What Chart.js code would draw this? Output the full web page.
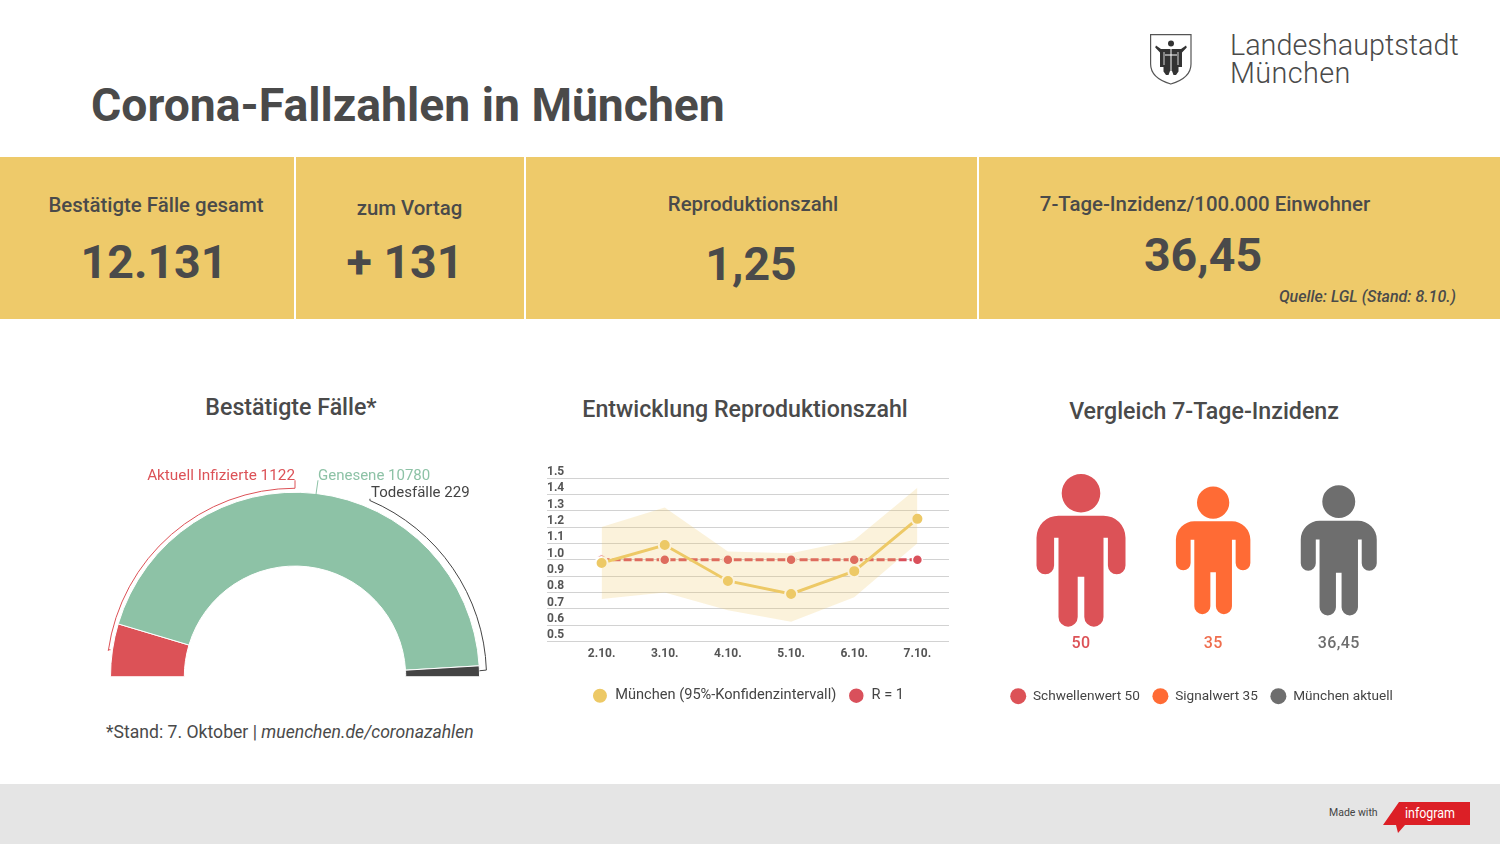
<!DOCTYPE html>
<html lang="de">
<head>
<meta charset="utf-8">
<title>Corona-Fallzahlen in München</title>
<script src="https://cdn.jsdelivr.net/npm/chart.js@4"></script>
<style>
  html, body { margin: 0; padding: 0; background: #fff; }
  body { position: relative; width: 1500px; height: 844px; overflow: hidden; font-family: Roboto, sans-serif; color: #4a4a4a; }
  .abs { position: absolute; white-space: nowrap; }
  .center { transform: translateX(-50%); text-align: center; }
  .band { position: absolute; top: 157px; height: 162px; background: #eeca6a; }
  .kpi-label { font-size: 20.4px; font-weight: 500; line-height: 26px; }
  .kpi-value { font-size: 46.5px; font-weight: 700; line-height: 56px; }
  .chart-title { font-size: 23.2px; font-weight: 500; line-height: 30px; }
  canvas { position: absolute; }
</style>
</head>
<body>
<div class="abs" style="left:91px;top:74px;font-size:46.3px;font-weight:700;line-height:62px">Corona-Fallzahlen in München</div>

<svg class="abs" style="left:1150px;top:34px" width="42" height="51" viewBox="0 0 42 51">
  <path d="M0.6 0.6H41V30C41 41 31 47 20.8 50C10.6 47 0.6 41 0.6 30Z" fill="#fff" stroke="#555" stroke-width="1.2"/>
  <circle cx="21" cy="9.5" r="3" fill="#333"/>
  <path d="M6 11.5L11 15H31L36 11.5L36.8 13.5L32 18.5V33H28.5V37.5L26 41H23.5L22 37H20L18.5 41H16L13.5 37.5V33H10V18.5L5.2 13.5Z" fill="#333"/>
  <path d="M21 15V37M15 21H27" stroke="#fff" stroke-width="1" fill="none"/>
  <path d="M14 18V31M28 18V31" stroke="#fff" stroke-width="0.8" fill="none"/>
</svg>
<div class="abs" style="left:1230px;top:31px;font-size:28.8px;font-weight:300;line-height:28px">Landeshauptstadt<br><span style="letter-spacing:.4px">München</span></div>

<div class="band" style="left:0;width:294px"></div>
<div class="band" style="left:296px;width:228px"></div>
<div class="band" style="left:526px;width:451px"></div>
<div class="band" style="left:979px;width:521px"></div>
<div id="kpis"></div>
<div class="abs" style="right:44px;top:287px;font-size:16px;font-weight:500;font-style:italic;line-height:20px">Quelle: LGL (Stand: 8.10.)</div>

<div class="abs center chart-title" style="left:291px;top:392px">Bestätigte Fälle*</div>
<div class="abs center chart-title" style="left:745px;top:394px">Entwicklung Reproduktionszahl</div>
<div class="abs center chart-title" style="left:1204px;top:396px">Vergleich 7-Tage-Inzidenz</div>

<canvas id="gaugeChart" style="left:90px;top:450px;width:410px;height:240px"></canvas>
<canvas id="rChart" style="left:547px;top:460px;width:402px;height:253px"></canvas>
<canvas id="incidenceChart" style="left:960px;top:424px;width:483px;height:289px"></canvas>

<div class="abs" style="left:106px;top:720px;font-size:17.6px;line-height:24px">*Stand: 7. Oktober | <i>muenchen.de/coronazahlen</i></div>

<div class="abs" style="left:0;top:784px;width:1500px;height:60px;background:#e5e5e5"></div>
<div class="abs" style="left:1329px;top:806px;font-size:10.5px;line-height:14px;color:#444">Made with</div>
<svg class="abs" style="left:1382px;top:801px" width="90" height="33" viewBox="0 0 90 33">
  <path d="M17 1H88V24H23L16 32L14 24H1Z" fill="#dc1f26"/>
  <text x="23" y="17" fill="#fff" font-family="Roboto" font-size="15" textLength="50" lengthAdjust="spacingAndGlyphs">infogram</text>
</svg>

<script>
// header tiles
const kpiLabels = ['Bestätigte Fälle gesamt', 'zum Vortag', 'Reproduktionszahl', '7-Tage-Inzidenz/100.000 Einwohner'];
const kpiValues = ['12.131', '+ 131', '1,25', '36,45'];

// gauge
const caseLabels = ['Aktuell Infizierte', 'Genesene', 'Todesfälle'];
const caseValues = [1122, 10780, 229];

// reproduction number
const days = ['2.10.', '3.10.', '4.10.', '5.10.', '6.10.', '7.10.'];
const rMunich = [0.98, 1.09, 0.87, 0.79, 0.93, 1.25];
const rUpper = [1.2, 1.32, 1.05, 1.04, 1.12, 1.44];
const rLower = [0.76, 0.8, 0.69, 0.62, 0.77, 1.1];
const rOne = [1, 1, 1, 1, 1, 1];

// 7 day incidence
const incidenceLabels = ['Schwellenwert 50', 'Signalwert 35', 'München aktuell'];
const incidenceValues = [50, 35, 36.45];
const incidenceTexts = ['50', '35', '36,45'];

Chart.defaults.font.family = 'Roboto';
Chart.defaults.color = '#4a4a4a';
Chart.defaults.animation = false;

const RED = '#dc5257', GREEN = '#8dc2a6', DARK = '#444444', YELLOW = '#edc966', ORANGE = '#ff6b35', GREY = '#6e6e6e';

// tile texts, positions per tile
const kpiCenters = [156, 409.5, 753, 1205];
const kpiLabelTops = [192, 195, 191, 191];
const kpiValueCenters = [154, 405, 751, 1203];
const kpiValueTops = [234, 234, 236, 227];
kpiLabels.forEach((t, i) => {
  const l = document.createElement('div');
  l.className = 'abs center kpi-label';
  l.style.left = kpiCenters[i] + 'px';
  l.style.top = kpiLabelTops[i] + 'px';
  l.textContent = t;
  document.getElementById('kpis').appendChild(l);
  const v = document.createElement('div');
  v.className = 'abs center kpi-value';
  v.style.left = kpiValueCenters[i] + 'px';
  v.style.top = kpiValueTops[i] + 'px';
  v.textContent = kpiValues[i];
  document.getElementById('kpis').appendChild(v);
});

// labels and thin bracket lines around the half ring
const gaugeLabels = {
  id: 'gaugeLabels',
  afterDatasetsDraw(chart) {
    const { ctx } = chart;
    const arc = chart.getDatasetMeta(0).data[0];
    const cx = arc.x, cy = arc.y, r = arc.outerRadius;
    const deg = d => d * Math.PI / 180;
    ctx.save();
    ctx.lineWidth = 1;

    // infected, from the red slice over to the top
    ctx.strokeStyle = RED;
    ctx.beginPath();
    ctx.moveTo(cx - r, cy - 27);
    ctx.lineTo(cx + (r + 4) * Math.cos(deg(188)) , cy - 27);
    ctx.arc(cx, cy, r + 4, deg(188), deg(270));
    ctx.lineTo(cx, cy - r - 12);
    ctx.stroke();

    // recovered
    ctx.strokeStyle = GREEN;
    ctx.beginPath();
    ctx.moveTo(cx + 21, cy - r + 2);
    ctx.lineTo(cx + 23, cy - r - 12);
    ctx.stroke();

    // deaths
    ctx.strokeStyle = DARK;
    ctx.beginPath();
    ctx.moveTo(cx + 75, cy - 178);
    ctx.arc(cx, cy, r + 7, deg(293), deg(358));
    ctx.lineTo(cx + r, cy - 6);
    ctx.stroke();

    ctx.font = '15.3px Roboto';
    ctx.textBaseline = 'middle';
    ctx.fillStyle = RED;
    ctx.textAlign = 'right';
    ctx.fillText(caseLabels[0] + ' ' + caseValues[0], cx, cy - 201);
    ctx.font = '15px Roboto';
    ctx.fillStyle = GREEN;
    ctx.textAlign = 'left';
    ctx.fillText(caseLabels[1] + ' ' + caseValues[1], cx + 23, cy - 201);
    ctx.fillStyle = DARK;
    ctx.fillText(caseLabels[2] + ' ' + caseValues[2], cx + 76, cy - 184);
    ctx.restore();
  }
};

new Chart(document.getElementById('gaugeChart'), {
  type: 'doughnut',
  data: {
    labels: caseLabels,
    datasets: [{
      data: caseValues,
      backgroundColor: [RED, GREEN, DARK],
      borderColor: '#fff',
      borderWidth: 1
    }]
  },
  options: {
    responsive: false,
    rotation: -90,
    circumference: 180,
    cutout: '60%',
    layout: { padding: { left: 20, right: 20, top: 41, bottom: 12 } },
    plugins: { legend: { display: false }, tooltip: { enabled: false } },
    events: []
  },
  plugins: [gaugeLabels]
});

new Chart(document.getElementById('rChart'), {
  type: 'line',
  data: {
    labels: days,
    datasets: [
      { label: 'upper', data: rUpper, borderWidth: 0, pointRadius: 0, tension: 0, fill: '+1', backgroundColor: 'rgba(238,202,106,0.24)' },
      { label: 'lower', data: rLower, borderWidth: 0, pointRadius: 0, tension: 0, fill: false },
      { label: 'München (95%-Konfidenzintervall)', data: rMunich, borderColor: YELLOW, backgroundColor: YELLOW, borderWidth: 3, tension: 0, pointRadius: 6, pointBorderColor: '#fff', pointBorderWidth: 2, pointBackgroundColor: YELLOW, fill: false },
      { label: 'R = 1', data: rOne, borderColor: '#d9505b', backgroundColor: '#d9505b', borderWidth: 3, borderDash: [8, 3], tension: 0, pointRadius: 5, pointBorderColor: '#fff', pointBorderWidth: 1.5, pointBackgroundColor: '#d9505b', fill: false }
    ]
  },
  options: {
    responsive: false,
    layout: { autoPadding: false, padding: { top: 18, right: 0, left: 0, bottom: 0 } },
    scales: {
      x: {
        offset: true,
        grid: { display: false, drawTicks: false },
        border: { display: false },
        ticks: { font: { size: 12, weight: 'bold' }, color: '#555', maxRotation: 0, padding: 5 },
        afterFit(scale) { scale.height = 35; }
      },
      y: {
        min: 0.5,
        max: 1.5,
        grid: { color: '#d2d2d2', tickLength: 23, lineWidth: 1 },
        border: { display: false },
        ticks: {
          stepSize: 0.1,
          autoSkip: false,
          font: { size: 12, weight: 'bold' },
          color: '#555',
          crossAlign: 'far',
          labelOffset: -6,
          padding: 0,
          callback: v => v.toFixed(1)
        },
        afterFit(scale) { scale.width = 23; }
      }
    },
    plugins: {
      tooltip: { enabled: false },
      legend: {
        position: 'bottom',
        labels: {
          filter: item => item.text !== 'upper' && item.text !== 'lower',
          usePointStyle: true,
          pointStyle: 'circle',
          pointStyleWidth: 16,
          boxHeight: 11.3,
          padding: 12,
          font: { size: 14.6 },
          color: '#444'
        }
      }
    },
    events: []
  }
});

// person outline, 153 high with the origin in its middle
function personPath() {
  const p = new Path2D();
  p.arc(0, -57.2, 19.3, 0, Math.PI * 2);
  p.moveTo(-22, -34.8);
  p.lineTo(22, -34.8);
  p.arcTo(44.5, -34.8, 44.5, -12, 22);
  p.lineTo(44.5, 15);
  p.arc(35.7, 15, 8.8, 0, Math.PI);
  p.lineTo(26.9, -12.8);
  p.lineTo(22.5, -12.8);
  p.lineTo(22.5, 66.6);
  p.arc(12.9, 66.6, 9.6, 0, Math.PI);
  p.lineTo(3.3, 26.2);
  p.lineTo(-3.3, 26.2);
  p.lineTo(-3.3, 66.6);
  p.arc(-12.9, 66.6, 9.6, 0, Math.PI);
  p.lineTo(-22.5, -12.8);
  p.lineTo(-26.9, -12.8);
  p.lineTo(-26.9, 15);
  p.arc(-35.7, 15, 8.8, 0, Math.PI);
  p.lineTo(-44.5, -12);
  p.arcTo(-44.5, -34.8, -22, -34.8, 22);
  p.closePath();
  return p;
}

const figures = {
  id: 'figures',
  afterDatasetsDraw(chart) {
    const { ctx, chartArea } = chart;
    const path = personPath();
    chart.data.datasets.forEach((ds, i) => {
      const pt = chart.getDatasetMeta(i).data[0];
      const s = pt.options.radius / 76.5;
      ctx.save();
      ctx.translate(pt.x, pt.y);
      ctx.scale(s, s);
      ctx.fillStyle = ds.backgroundColor;
      ctx.fill(path);
      ctx.restore();
      ctx.save();
      ctx.font = '500 16px Roboto';
      ctx.letterSpacing = '0.4px';
      ctx.textAlign = 'center';
      ctx.textBaseline = 'middle';
      ctx.fillStyle = ds.textColor;
      ctx.fillText(incidenceTexts[i], pt.x, chartArea.top + 220);
      ctx.restore();
    });
  }
};

// area goes with the value, so the height goes with the root of it
const figureRadius = v => 76.5 * Math.sqrt(v / 50);
const figureHalfWidth = v => figureRadius(v) * 44.5 / 76.5;
const figureX = incidenceValues.map((v, i) => {
  let x = 0;
  for (let k = 1; k <= i; k++) {
    x += figureHalfWidth(incidenceValues[k - 1]) + 50.4 + figureHalfWidth(incidenceValues[k]);
  }
  return x;
});
const figureColors = [RED, ORANGE, GREY];
const figureTextColors = ['#dc5257', '#ef6e4e', '#6e6e6e'];

new Chart(document.getElementById('incidenceChart'), {
  type: 'bubble',
  data: {
    datasets: incidenceLabels.map((label, i) => ({
      label,
      data: [{ x: figureX[i], y: 0.5, r: figureRadius(incidenceValues[i]) }],
      backgroundColor: figureColors[i],
      borderColor: figureColors[i],
      textColor: figureTextColors[i],
      // the figure plugin paints over it
      borderWidth: 0,
      pointStyle: false
    }))
  },
  options: {
    responsive: false,
    layout: { autoPadding: false },
    scales: {
      x: { display: false, min: -121, max: 362 },
      y: { display: false, min: 0, max: 1 }
    },
    plugins: {
      tooltip: { enabled: false },
      legend: {
        position: 'bottom',
        labels: {
          usePointStyle: true,
          pointStyle: 'circle',
          pointStyleWidth: 16,
          boxHeight: 11.3,
          padding: 12.5,
          font: { size: 13.6 },
          generateLabels(chart) {
            return chart.data.datasets.map((ds, i) => ({
              text: ds.label,
              fillStyle: ds.backgroundColor,
              strokeStyle: ds.backgroundColor,
              fontColor: '#444',
              lineWidth: 0,
              pointStyle: 'circle',
              datasetIndex: i
            }));
          }
        }
      }
    },
    events: []
  },
  plugins: [figures]
});
</script>
</body>
</html>
